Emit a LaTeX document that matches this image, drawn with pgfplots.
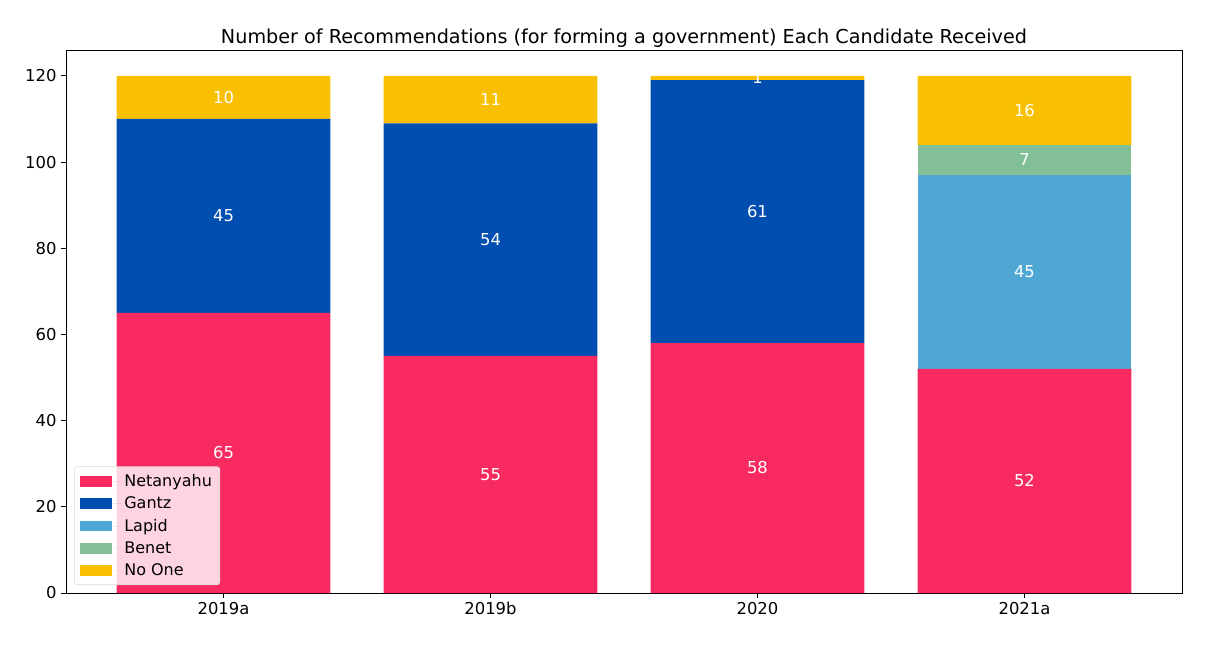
\documentclass[border=0pt]{standalone}
\usepackage{fontspec}
\setmainfont{DejaVu Sans}
\usepackage{pgfplots}
\usepackage{pgfplotstable}
\pgfplotsset{compat=1.18}

\definecolor{cNet}{HTML}{F92A60}
\definecolor{cGan}{HTML}{004FB0}
\definecolor{cLap}{HTML}{4FA8D4}
\definecolor{cBen}{HTML}{82BF96}
\definecolor{cNo}{HTML}{F8C000}

% seats recommended per candidate, by election
\pgfplotstableread{
x  N   G   L   B  O
0  65  45  0   0  10
1  55  54  0   0  11
2  58  61  0   0  1
3  52  0   45  7  16
}\recs

\begin{document}
\begin{tikzpicture}
\path[use as bounding box] (-49.5pt,-38.25pt) rectangle (858.75pt,444.75pt);
\begin{axis}[
    at={(0,0)}, anchor=south west,
    scale only axis,
    width=837pt, height=407.25pt,
    ybar stacked,
    bar width=0.8,
    xmin=-0.59, xmax=3.59,
    ymin=0, ymax=126,
    xtick=data,
    xticklabels={2019a,2019b,2020,2021a},
    ytick={0,20,...,120},
    tick pos=left,
    tick align=outside,
    major tick length=3.6pt,
    tick style={black, line width=0.6pt},
    axis line style={black, line width=0.6pt},
    /pgf/number format/assume math mode=true,
    ticklabel style={font=\fontsize{12.3}{15}\selectfont},
    title={Number of Recommendations (for forming a government) Each Candidate Received},
    title style={font=\fontsize{14.4}{17}\selectfont, yshift=-8pt},
    point meta=explicit,
    nodes near coords={\pgfmathfloatifflags{\pgfplotspointmeta}{0}{}{\pgfmathprintnumber{\pgfplotspointmeta}}},
    every node near coord/.append style={font=\fontsize{12.3}{15}\selectfont, text=white},
    legend style={at={(0.0072,0.0147)}, anchor=south west,
        fill=white, fill opacity=0.8, text opacity=1, draw=black!15,
        rounded corners=2pt, font=\fontsize{12}{15}\selectfont,
        row sep=2.3pt, inner xsep=4pt, inner ysep=3.5pt},
    legend cell align=left,
    legend image code/.code={\fill[#1, fill opacity=1, sharp corners] (0pt,-4.1pt) rectangle (24pt,4.1pt);
        \path (0pt,0pt) -- (31.5pt,0pt);},
    seg/.style={draw=none, fill=#1},
]
\addplot[seg=cNet] table[x=x, y=N, meta=N] {\recs};
\addplot[seg=cGan] table[x=x, y=G, meta=G] {\recs};
\addplot[seg=cLap] table[x=x, y=L, meta=L] {\recs};
\addplot[seg=cBen] table[x=x, y=B, meta=B] {\recs};
\addplot[seg=cNo]  table[x=x, y=O, meta=O] {\recs};
\legend{Netanyahu,Gantz,Lapid,Benet,No One}
\end{axis}
\end{tikzpicture}
\end{document}
